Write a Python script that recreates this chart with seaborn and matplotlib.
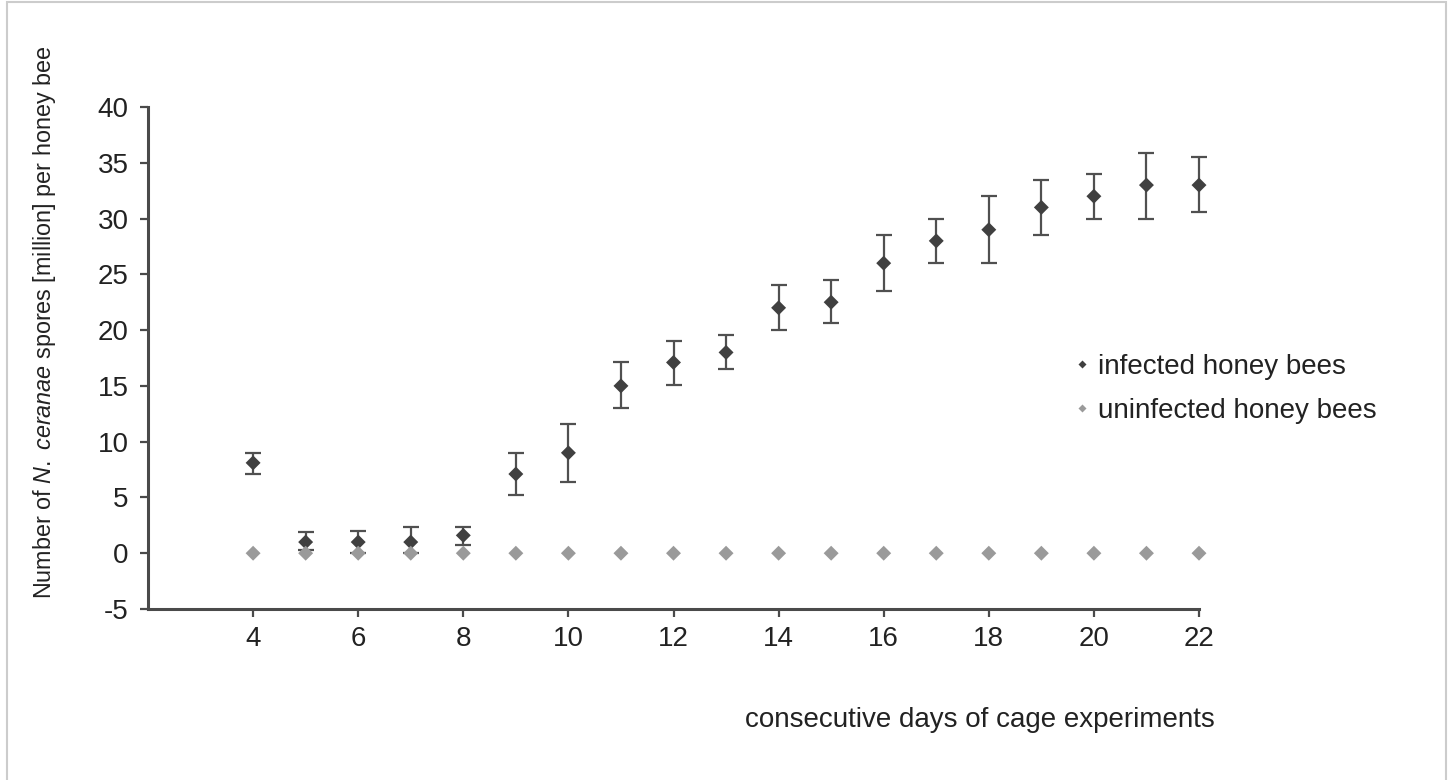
import pandas as pd
import matplotlib.pyplot as plt
import seaborn as sns
from matplotlib import font_manager
from matplotlib.patches import Rectangle

days = [4, 5, 6, 7, 8, 9, 10, 11, 12, 13, 14, 15, 16, 17, 18, 19, 20, 21, 22]
infected = [8.1, 1.0, 1.0, 1.0, 1.6, 7.1, 9.0, 15.0, 17.1, 18.0, 22.0, 22.5,
            26.0, 28.0, 29.0, 31.0, 32.0, 33.0, 33.0]
err_low = [1.0, 0.7, 1.0, 1.0, 0.9, 1.9, 2.6, 2.0, 2.0, 1.5, 2.0, 1.9,
           2.5, 2.0, 3.0, 2.5, 2.0, 3.0, 2.4]
err_high = [0.9, 0.9, 1.0, 1.35, 0.75, 1.9, 2.6, 2.1, 1.9, 1.55, 2.0, 2.0,
            2.5, 2.0, 3.0, 2.45, 2.0, 2.9, 2.5]
uninfected = [0, 0, 0, 0, 0, 0, 0, 0, 0, 0, 0, 0, 0, 0, 0, 0, 0, 0, 0]
groups = ['infected honey bees', 'uninfected honey bees']
colors = ['#404040', '#9a9a9a']

df = pd.DataFrame({
    'day': days + days,
    'spores': infected + uninfected,
    'group': [groups[0]] * len(days) + [groups[1]] * len(days),
})

sns.set_theme(style="white")
plt.rcParams['font.family'] = ['Liberation Sans', 'DejaVu Sans']
plt.rcParams['axes.unicode_minus'] = False
names = {f.name for f in font_manager.fontManager.ttflist}
narrow = 'Liberation Sans Narrow' if 'Liberation Sans Narrow' in names else 'Liberation Sans'
ylab_size = 21 if narrow != 'Liberation Sans' else 16.8
plt.rcParams['mathtext.fontset'] = 'custom'
plt.rcParams['mathtext.rm'] = narrow
plt.rcParams['mathtext.it'] = narrow + ':italic'

fig = plt.figure(figsize=(14.48, 7.8), dpi=100)
ax = fig.add_axes([148 / 1448, 1 - 609 / 780, (1199 - 148) / 1448, (609 - 107) / 780])

ax.errorbar(days, infected, yerr=[err_low, err_high], fmt='none',
            ecolor='#505050', elinewidth=1.6, capsize=6, capthick=1.6,
            zorder=2, clip_on=False)
sns.scatterplot(data=df, x='day', y='spores', hue='group', palette=colors,
                marker='D', s=58, edgecolor='none', ax=ax, zorder=3, clip_on=False)

ax.set_xlim(2, 22)
ax.set_ylim(-5, 40)
ax.set_xticks(range(4, 23, 2))
ax.set_yticks(range(-5, 41, 5))
ax.set_xlabel('')
ax.set_ylabel('')
sns.despine(ax=ax)
for s in ['left', 'bottom']:
    ax.spines[s].set_color('#4a4a4a')
    ax.spines[s].set_linewidth(2.2)
ax.tick_params(axis='both', direction='out', length=6, width=1.6, color='#4a4a4a',
               labelsize=20, labelcolor='#222222', left=True, bottom=True)
ax.tick_params(axis='y', pad=8)
ax.tick_params(axis='x', pad=6)

ax.legend(frameon=False, fontsize=20, markerscale=0.5, loc='center left',
          bbox_to_anchor=(1074 / 1448, 1 - 389 / 780), bbox_transform=fig.transFigure,
          borderpad=0, borderaxespad=0, handlelength=0.55, handletextpad=0.3,
          labelspacing=0.65, labelcolor='#222222')

fig.text(45 / 1448, 1 - 322 / 780,
         r'Number of $\mathit{N.\ ceranae}$ spores [million] per honey bee',
         rotation=90, ha='center', va='center', fontsize=ylab_size, color='#222222',
         family=[narrow, 'Liberation Sans'])
fig.text(980 / 1448, 1 - 720 / 780, 'consecutive days of cage experiments',
         ha='center', va='center', fontsize=20, color='#222222')

fig.add_artist(Rectangle((7 / 1448, -0.01), (1446 - 7) / 1448, 1.0074,
                         transform=fig.transFigure, fill=False,
                         edgecolor='#cccccc', linewidth=1.5))

fig.savefig('out.png', dpi=100)
